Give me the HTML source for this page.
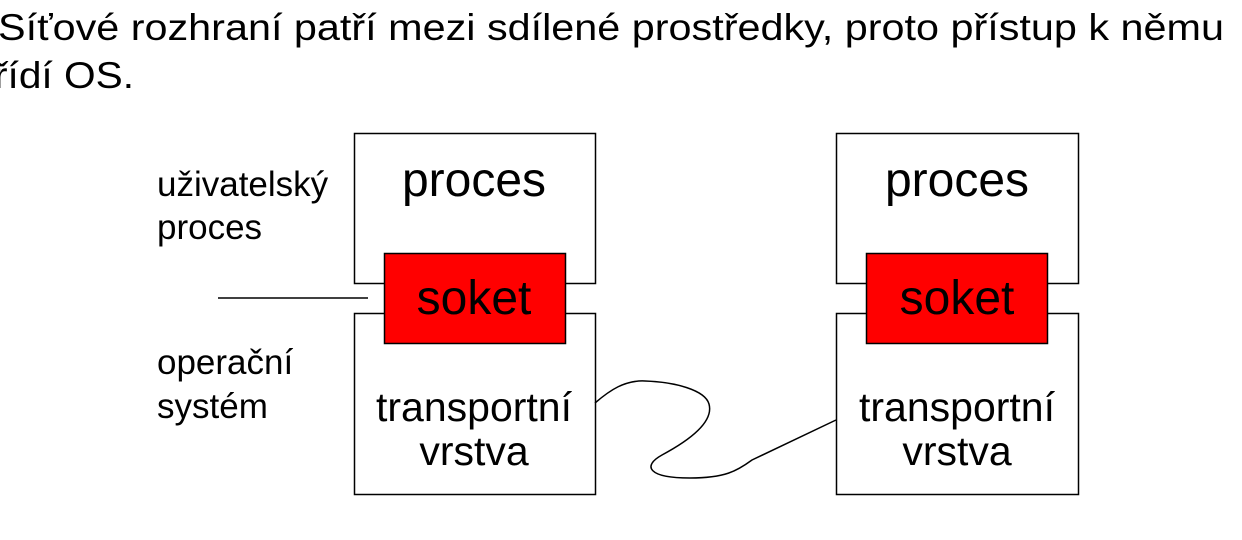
<!DOCTYPE html>
<html><head><meta charset="utf-8"><style>
html,body{margin:0;padding:0;background:#fff;width:1242px;height:540px;overflow:hidden}
</style></head><body>
<svg width="1242" height="540" xmlns="http://www.w3.org/2000/svg" font-family="'Liberation Sans', 'DejaVu Sans', sans-serif">
<text x="-2" y="40" font-size="37" textLength="1226" lengthAdjust="spacingAndGlyphs">Síťové rozhraní patří mezi sdílené prostředky, proto přístup k němu</text>
<text x="-6" y="88" font-size="37" textLength="140" lengthAdjust="spacingAndGlyphs">řídí OS.</text>
<g fill="#fff" stroke="#000" stroke-width="1.5">
<rect x="354.5" y="133.5" width="241" height="150"/>
<rect x="354.5" y="313.5" width="241" height="181"/>
<rect x="836.5" y="133.5" width="242" height="150"/>
<rect x="836.5" y="313.5" width="242" height="181"/>
<rect x="384.5" y="253.5" width="181" height="90" fill="#ff0000"/>
<rect x="866.5" y="253.5" width="181" height="90" fill="#ff0000"/>
</g>
<line x1="218" y1="298" x2="368" y2="298" stroke="#000" stroke-width="1.5"/>
<path d="M595,403 C610,390 625,380 645,381 C675,382 705,390 709,404 C714,422 690,440 662,455 C642,466 648,478 690,478 C725,478 737,471 752,460 L836,420" fill="none" stroke="#000" stroke-width="1.5"/>
<g font-size="48" text-anchor="middle">
<text x="474" y="196">proces</text>
<text x="957" y="196">proces</text>
<text x="474" y="314">soket</text>
<text x="957" y="314">soket</text>
</g>
<g font-size="41" text-anchor="middle">
<text x="474" y="421">transportní</text>
<text x="474" y="465">vrstva</text>
<text x="957" y="421">transportní</text>
<text x="957" y="465">vrstva</text>
</g>
<g font-size="35">
<text x="157" y="196">uživatelský</text>
<text x="157" y="239">proces</text>
<text x="157" y="374">operační</text>
<text x="157" y="418">systém</text>
</g>
</svg>
</body></html>
